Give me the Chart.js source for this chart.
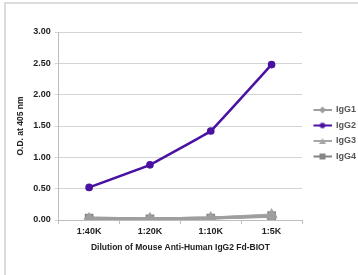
<!DOCTYPE html>
<html>
<head>
<meta charset="utf-8">
<script src="https://cdn.jsdelivr.net/npm/chart.js@4"></script>
<style>
  html, body { margin: 0; padding: 0; background: #fff; }
  #frame {
    position: absolute; left: 4px; top: 2px; width: 360px; height: 280px;
    border-left: 2px solid #dcdcdc; border-top: 2px solid #dcdcdc;
  }
  #wrap { position: absolute; left: 0; top: 0; width: 358px; height: 275px; }
</style>
</head>
<body>
<div id="frame"></div>
<div id="wrap"><canvas id="odChart"></canvas></div>
<script>
// ---- data ----
const dilutions = ["1:40K", "1:20K", "1:10K", "1:5K"];
const igg1 = [0.02, 0.02, 0.03, 0.06];
const igg2 = [0.52, 0.88, 1.42, 2.48];
const igg3 = [0.02, 0.02, 0.03, 0.08];
const igg4 = [0.03, 0.02, 0.03, 0.07];
const yTicks = [0, 0.5, 1, 1.5, 2, 2.5, 3];

const FONT = "'Liberation Sans', Arial, sans-serif";

// little line + marker swatch for the legend (5px blank margin on the left)
function swatch(color, shape) {
    const c = document.createElement("canvas");
    c.width = 23; c.height = 8;
    const g = c.getContext("2d");
    g.strokeStyle = color;
    g.fillStyle = color;
    g.lineWidth = 2;
    g.beginPath(); g.moveTo(5, 4); g.lineTo(23, 4); g.stroke();
    g.beginPath();
    const cx = 14;
    if (shape === "triangle") {
        g.moveTo(cx, 1); g.lineTo(cx + 3.5, 7); g.lineTo(cx - 3.5, 7); g.closePath();
    } else if (shape === "rect") {
        g.rect(cx - 3, 1, 6, 6);
    } else if (shape === "rectRot") {
        g.moveTo(cx, 0.5); g.lineTo(cx + 3.5, 4); g.lineTo(cx, 7.5); g.lineTo(cx - 3.5, 4); g.closePath();
    } else {
        g.arc(cx, 4, 2.8, 0, Math.PI * 2);
    }
    g.fill();
    return c;
}

const series = [
    { label: "IgG1", data: igg1, color: "#9e9e9e", shape: "rectRot", width: 3, r: 3.5 },
    { label: "IgG2", data: igg2, color: "#4a12a0", shape: "circle", width: 2.5, r: 2.6 },
    { label: "IgG3", data: igg3, color: "#a6a6a6", shape: "triangle", width: 3, r: 4 },
    { label: "IgG4", data: igg4, color: "#858585", shape: "rect", width: 3, r: 4 }
];

const ctx = document.getElementById("odChart").getContext("2d");

new Chart(ctx, {
    type: "line",
    data: {
        labels: dilutions,
        datasets: series.map(s => ({
            label: s.label,
            data: s.data,
            borderColor: s.color,
            backgroundColor: s.color,
            borderWidth: s.width,
            pointStyle: s.shape,
            pointRadius: s.r,
            pointHoverRadius: s.r,
            tension: 0.05,
            swatch: swatch(s.color, s.shape)
        }))
    },
    options: {
        responsive: true,
        maintainAspectRatio: false,
        animation: false,
        layout: { padding: { left: 16, top: 32, right: 0, bottom: 22 } },
        plugins: {
            tooltip: { enabled: false },
            legend: {
                position: "right",
                align: "start",
                maxWidth: 56,
                // blank title only pushes the entries down to where they sit in the reference
                title: { display: true, text: " ", font: { size: 10 }, padding: { top: 55, bottom: 0 } },
                labels: {
                    usePointStyle: true,
                    pointStyleWidth: 23,
                    padding: 6.5,
                    color: "#555",
                    font: { family: FONT, size: 9, weight: "bold" },
                    generateLabels: chart => chart.data.datasets.map((ds, i) => ({
                        text: ds.label,
                        pointStyle: ds.swatch,
                        fillStyle: ds.borderColor,
                        strokeStyle: ds.borderColor,
                        lineWidth: 0,
                        fontColor: "#555",
                        datasetIndex: i
                    }))
                }
            }
        },
        scales: {
            x: {
                offset: true,
                grid: { offset: true, drawOnChartArea: false, color: "#bdbdbd", tickLength: 4 },
                border: { color: "#bdbdbd" },
                ticks: { color: "#222", font: { family: FONT, size: 9, weight: "bold" }, padding: 2 },
                title: {
                    display: true,
                    text: "Dilution of Mouse Anti-Human IgG2 Fd-BIOT",
                    color: "#222",
                    font: { family: FONT, size: 8.5, weight: "bold" },
                    padding: { top: 4, bottom: 0 }
                }
            },
            y: {
                min: 0,
                max: 3,
                afterBuildTicks: axis => { axis.ticks = yTicks.map(v => ({ value: v })); },
                grid: { color: "#d4d4d4", tickLength: 4 },
                border: { color: "#bdbdbd" },
                ticks: {
                    color: "#222",
                    font: { family: FONT, size: 9, weight: "bold" },
                    padding: 4,
                    callback: v => Number(v).toFixed(2)
                },
                title: {
                    display: true,
                    text: "O.D. at 405 nm",
                    color: "#222",
                    font: { family: FONT, size: 8.5, weight: "bold" },
                    padding: { top: 0, bottom: 3 }
                }
            }
        }
    }
});
</script>
</body>
</html>
